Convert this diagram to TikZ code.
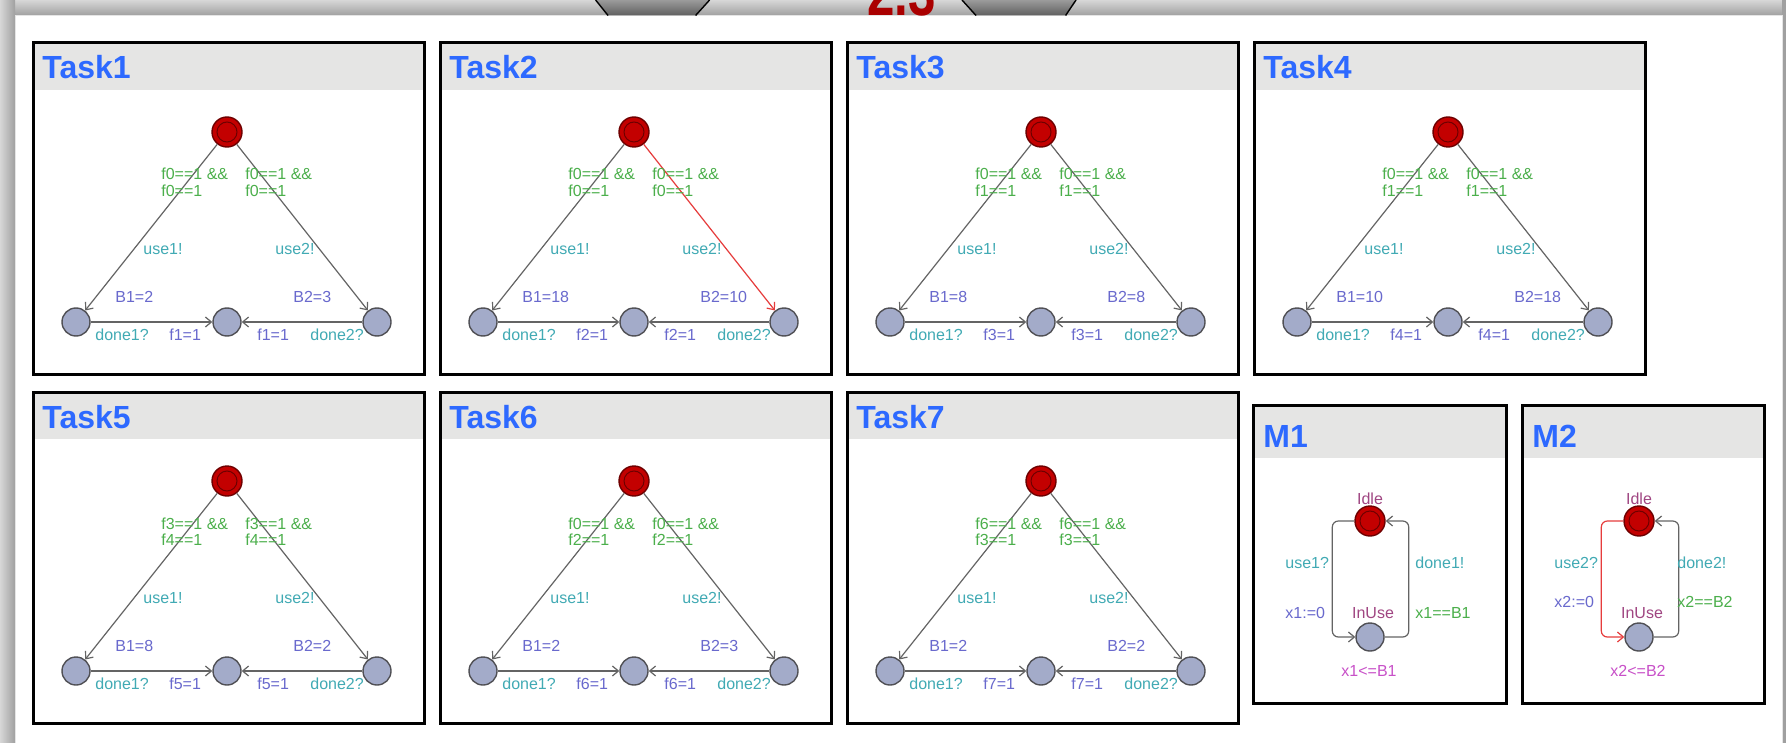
\documentclass[tikz,border=0pt]{standalone}
\usepackage{fontspec}
\setmainfont{Liberation Sans}
\usetikzlibrary{arrows.meta}

% palette
\definecolor{titleblue}{RGB}{45,105,255}
\definecolor{headgray}{RGB}{229,229,228}
\definecolor{locfill}{RGB}{163,171,201}
\definecolor{locdraw}{RGB}{80,80,85}
\definecolor{initfill}{RGB}{195,0,0}
\definecolor{initdraw}{RGB}{110,0,0}
\definecolor{edgegray}{RGB}{100,100,100}
\definecolor{edgered}{RGB}{230,60,60}
\definecolor{guardcol}{RGB}{75,175,75}
\definecolor{synccol}{RGB}{65,170,180}
\definecolor{assigncol}{RGB}{105,105,205}
\definecolor{namecol}{RGB}{160,70,130}
\definecolor{invcol}{RGB}{200,80,200}
\definecolor{versionred}{RGB}{170,0,0}
\definecolor{bandlight}{RGB}{215,215,215}
\definecolor{banddark}{RGB}{160,160,160}
\definecolor{tabtop}{RGB}{155,155,155}
\definecolor{tabbottom}{RGB}{95,95,95}

\tikzset{
  panelframe/.style={draw=black, line width=1.5pt},
  paneltitle/.style={anchor=base west, inner sep=0pt, text=titleblue,
    font=\fontsize{16}{16}\selectfont\bfseries},
  loc/.style={circle, draw=locdraw, fill=locfill, line width=0.7pt,
    minimum size=14pt, inner sep=0pt},
  initloc/.style={loc, draw=initdraw, fill=initfill, minimum size=15pt,
    path picture={\draw[initdraw, line width=0.5pt]
      (path picture bounding box.center) circle (5pt);}},
  trans/.style={draw=edgegray, line width=0.6pt,
    -{Straight Barb[length=3pt,width=5pt]}},
  lbl/.style={inner sep=0pt, anchor=base west, font=\fontsize{8}{7.5}\selectfont},
  guard/.style={lbl, text=guardcol},
  sync/.style={lbl, text=synccol},
  assign/.style={lbl, text=assigncol},
  locname/.style={lbl, anchor=base, text=namecol},
  inv/.style={lbl, anchor=base, text=invcol},
  versiontext/.style={anchor=base, inner sep=0pt, text=versionred,
    font=\fontsize{32}{32}\selectfont\bfseries},
}

% one task template: x, y, index, guard flags A and B, B1, B2, extra style of right edge
\newcommand\TaskPanel[8]{%
  \begin{scope}[shift={(#1,#2)}]
    \fill[headgray] (0,0) rectangle (391,47);
    \draw[panelframe] (0,0) rectangle (391,331);
    \node[paneltitle] (t#3title) at (9,36) {Task#3};
    \node[initloc] (t#3start) at (194,89) {};
    \node[loc] (t#3left) at (43,279) {};
    \node[loc] (t#3join) at (194,279) {};
    \node[loc] (t#3right) at (344,279) {};
    \draw[trans] (t#3start) -- (t#3left);
    \draw[trans,#8] (t#3start) -- (t#3right);
    \draw[trans] (t#3left) -- (t#3join);
    \draw[trans] (t#3right) -- (t#3join);
    \node[guard] (t#3gl) at (128,137)
      {\begin{tabular}[t]{@{}l@{}}f#4==1 \&\&\\f#5==1\end{tabular}};
    \node[guard] (t#3gr) at (212,137)
      {\begin{tabular}[t]{@{}l@{}}f#4==1 \&\&\\f#5==1\end{tabular}};
    \node[sync] (t#3sl) at (110,211) {use1!};
    \node[sync] (t#3sr) at (242,211) {use2!};
    \node[assign] (t#3al) at (82,259) {B1=#6};
    \node[assign] (t#3ar) at (260,259) {B2=#7};
    \node[sync] (t#3dl) at (62,297) {done1?};
    \node[assign] (t#3fl) at (136,297) {f#3=1};
    \node[assign] (t#3fr) at (224,297) {f#3=1};
    \node[sync] (t#3dr) at (277,297) {done2?};
  \end{scope}}

\begin{document}
\begin{tikzpicture}[x=0.5pt, y=-0.5pt]
  \clip (0,0) rectangle (1786,743);
  \fill[white] (0,0) rectangle (1786,743);

  % window chrome
  \shade[top color=bandlight, bottom color=banddark] (0,0) rectangle (1786,15.5);
  \shade[left color=bandlight, right color=banddark] (0,0) rectangle (15,743);
  \fill[banddark] (1782,0) rectangle (1786,743);
  \draw[white!80!gray, line width=0.5pt] (15,743) |- (1782,15.5) -- (1782,743);
  \shade[top color=tabtop, bottom color=tabbottom]
    (595.6,0) -- (709.6,0) -- (695.6,15.5) -- (608,15.5) -- cycle;
  \shade[top color=tabtop, bottom color=tabbottom]
    (962,0) -- (1076,0) -- (1065.6,15.5) -- (976,15.5) -- cycle;
  \draw[black, line width=0.7pt] (595.6,0) -- (608,15.5) (709.6,0) -- (695.6,15.5);
  \draw[black, line width=0.7pt] (962,0) -- (976,15.5) (1076,0) -- (1065.6,15.5);
  \node[versiontext] (version) at (901.5,15.5) {\scalebox{0.77}[1]{2.3}};

  % task automata
  \TaskPanel{33}{43}{1}{0}{0}{2}{3}{}
  \TaskPanel{440}{43}{2}{0}{0}{18}{10}{draw=edgered}
  \TaskPanel{847}{43}{3}{0}{1}{8}{8}{}
  \TaskPanel{1254}{43}{4}{0}{1}{10}{18}{}
  \TaskPanel{33}{392}{5}{3}{4}{8}{2}{}
  \TaskPanel{440}{392}{6}{0}{2}{2}{3}{}
  \TaskPanel{847}{392}{7}{6}{3}{2}{2}{}

  % machine M1
  \fill[headgray] (1253,405) rectangle (1506,458);
  \draw[panelframe] (1253,405) rectangle (1506,703);
  \node[paneltitle] (m1title) at (1263,447) {M1};
  \node[initloc] (m1idle) at (1370,521) {};
  \node[loc] (m1inuse) at (1370,637) {};
  \draw[trans, rounded corners=3pt] (m1idle.west) -- ++(-22,0) |- (m1inuse.west);
  \draw[trans, rounded corners=3pt] (m1inuse.east) -- ++(24,0) |- (m1idle.east);
  \node[locname] (m1idlename) at (1370,504) {Idle};
  \node[locname] (m1inusename) at (1373,618) {InUse};
  \node[inv] (m1inv) at (1369,676) {x1<=B1};
  \node[sync] (m1use) at (1285,568) {use1?};
  \node[sync] (m1done) at (1415,568) {done1!};
  \node[assign] (m1reset) at (1285,618) {x1:=0};
  \node[guard] (m1guard) at (1415,618) {x1==B1};

  % machine M2
  \fill[headgray] (1522,405) rectangle (1764,458);
  \draw[panelframe] (1522,405) rectangle (1764,703);
  \node[paneltitle] (m2title) at (1532,447) {M2};
  \node[initloc] (m2idle) at (1639,521) {};
  \node[loc] (m2inuse) at (1639,637) {};
  \draw[trans, draw=edgered, rounded corners=3pt] (m2idle.west) -- ++(-22,0) |- (m2inuse.west);
  \draw[trans, rounded corners=3pt] (m2inuse.east) -- ++(25,0) |- (m2idle.east);
  \node[locname] (m2idlename) at (1639,504) {Idle};
  \node[locname] (m2inusename) at (1642,618) {InUse};
  \node[inv] (m2inv) at (1638,676) {x2<=B2};
  \node[sync] (m2use) at (1554,568) {use2?};
  \node[sync] (m2done) at (1677,568) {done2!};
  \node[assign] (m2reset) at (1554,607) {x2:=0};
  \node[guard] (m2guard) at (1677,607) {x2==B2};
\end{tikzpicture}
\end{document}
